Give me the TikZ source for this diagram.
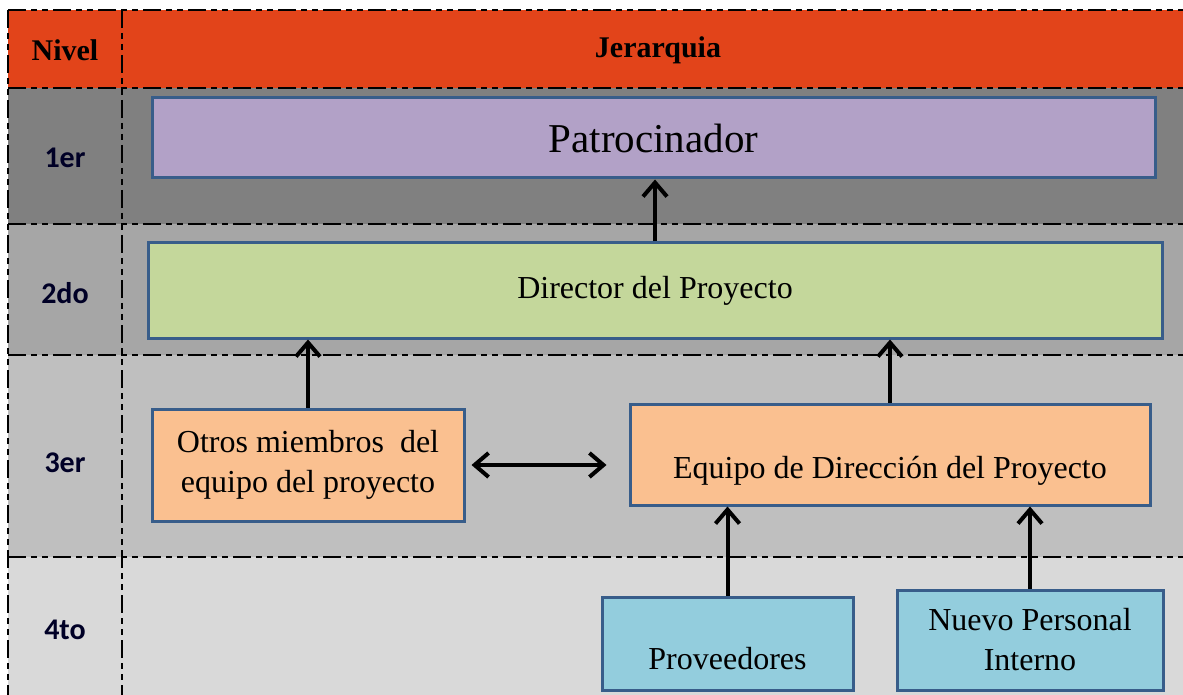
\documentclass[tikz,border=0pt]{standalone}
\usepackage{fontspec}
\setmainfont{Liberation Serif}
\newfontfamily\levelfont{Carlito}
\usepackage{tikz}
\usetikzlibrary{arrows.meta,positioning}

\definecolor{hdrred}{RGB}{226,68,26}
\definecolor{rowA}{RGB}{128,128,128}
\definecolor{rowB}{RGB}{166,166,166}
\definecolor{rowC}{RGB}{191,191,191}
\definecolor{rowD}{RGB}{217,217,217}
\definecolor{boxblue}{RGB}{56,93,138}
\definecolor{purpleF}{RGB}{178,161,199}
\definecolor{greenF}{RGB}{196,215,155}
\definecolor{orangeF}{RGB}{250,192,144}
\definecolor{cyanF}{RGB}{147,205,221}

\begin{document}
\begin{tikzpicture}[
  x=0.5pt, y=-0.5pt,
  >={Straight Barb[length=7pt, width=12pt]},
  band/.style={draw=none, inner sep=0, outer sep=0, anchor=north west, minimum width=587.5pt},
  sep/.style={line width=1.2pt, dash pattern=on 9pt off 2.5pt on 3pt off 2.5pt on 3pt off 2.5pt},
  lvl/.style={font=\levelfont\bfseries\fontsize{15}{17}\selectfont, text=black!85!blue},
  head/.style={font=\bfseries\fontsize{15}{18}\selectfont},
  box/.style={draw=boxblue, line width=1.5pt, inner sep=0, align=center, font=\fontsize{16}{20}\selectfont},
  arr/.style={->, line width=2pt},
]
\useasboundingbox (0,0) rectangle (1183,695);

% Bands
\node[band, fill=hdrred, minimum height=39pt]   (hdr)  at (8,10)  {};
\node[band, fill=rowA,   minimum height=68pt]   (row1) at (8,88)  {};
\node[band, fill=rowB,   minimum height=65.5pt] (row2) at (8,224) {};
\node[band, fill=rowC,   minimum height=101pt]  (row3) at (8,355) {};
\node[band, fill=rowD,   minimum height=69pt]   (row4) at (8,557) {};

\coordinate (colTop) at (122,10);
\coordinate (colBot) at (122,695);

\foreach \r in {hdr,row1,row2,row3,row4}
  \draw[sep] (\r.north west) -- (\r.north east);
\draw[sep] (hdr.north west) -- (row4.south west);
\draw[sep] (colTop) -- (colBot);

% Column heads and levels
\node[head] (nivel) at (65,50)  {Nivel};
\node[head] (jer)   at (658,50) {Jerarquia};
\node[lvl] (l1) at (65,158) {1er};
\node[lvl] (l2) at (65,293) {2do};
\node[lvl] (l3) at (65,463) {3er};
\node[lvl] (l4) at (65,630) {4to};

% Boxes
\node[box, fill=purpleF, minimum width=501.5pt, minimum height=40pt, font=\fontsize{20.5}{24}\selectfont] (pat) at (653.5,138) {Patrocinador};
\node[box, fill=greenF,  minimum width=507pt,   minimum height=47.5pt] (dir)    at (655,290.5) {Director del Proyecto};
\node[box, fill=orangeF, minimum width=156pt,   minimum height=56pt]   (otros)  at (308,465) {Otros miembros\ \ del\\equipo del proyecto};
\node[box, fill=orangeF, minimum width=260pt,   minimum height=50.5pt, text height=24pt, text depth=0pt] (equipo) at (890,454.5) {Equipo de Dirección del Proyecto};
\node[box, fill=cyanF,   minimum width=125.5pt, minimum height=46.5pt, text height=26pt, text depth=0pt] (prov)   at (727.5,643.5) {Proveedores};
\node[box, fill=cyanF,   minimum width=133pt,   minimum height=50pt]   (nuevo)  at (1030,640) {Nuevo Personal\\Interno};

% Arrows
\draw[arr] (dir.north) -- (dir.north |- pat.south);
\draw[arr] (otros.north) -- (otros.north |- dir.south);
\draw[arr] (equipo.north) -- (equipo.north |- dir.south);
\draw[arr, <->, shorten <=3pt, shorten >=11pt] (otros.east) -- (otros.east -| equipo.west);
\draw[arr] (prov.north) -- (prov.north |- equipo.south);
\draw[arr] (nuevo.north) -- (nuevo.north |- equipo.south);

\end{tikzpicture}
\end{document}
